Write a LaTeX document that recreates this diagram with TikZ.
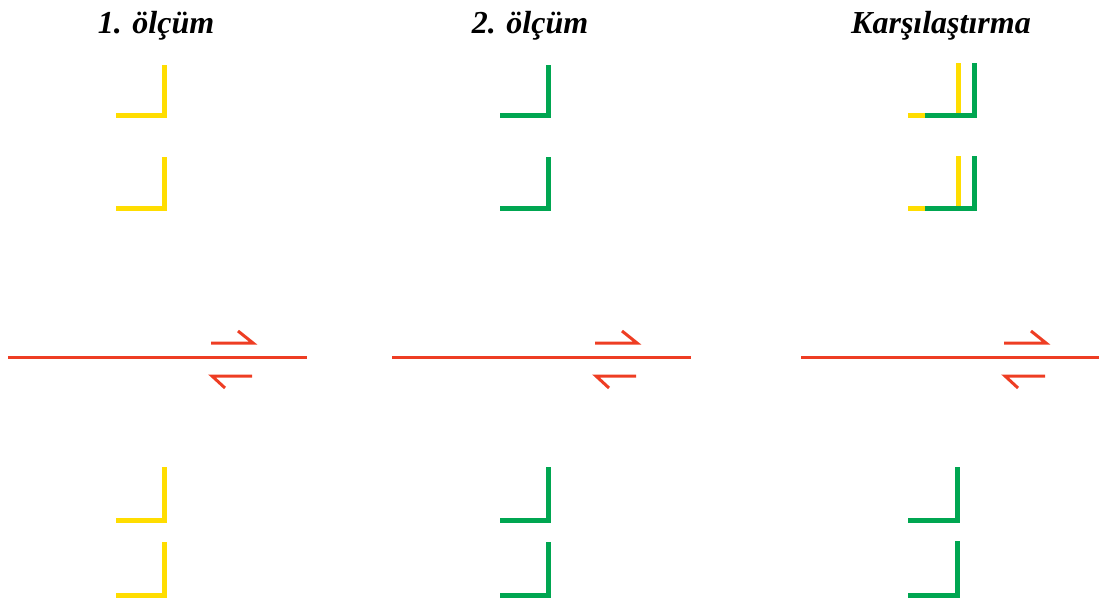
\documentclass[tikz,border=0pt]{standalone}
\usepackage{fontspec}
\setmainfont{Liberation Serif}
\definecolor{myyellow}{HTML}{FFDD00}
\definecolor{mygreen}{HTML}{00A651}
\definecolor{myred}{HTML}{EE3D23}
\begin{document}
\begin{tikzpicture}[x=1pt,y=-1pt,
  title/.style={anchor=base,font=\fontsize{32}{36}\selectfont\bfseries\itshape},
  ymark/.style={draw=myyellow,line width=5pt,miter limit=10},
  gmark/.style={draw=mygreen,line width=5pt,miter limit=10},
  fault/.style={draw=myred,line width=3pt}]
\useasboundingbox (0,0) rectangle (1099,600);
% titles
\node[title] (t1) at (156,33) {1. ölçüm};
\node[title] (t2) at (530,33) {2. ölçüm};
\node[title] (t3) at (941,33) {Karşılaştırma};
% markers columns 1 and 2
\foreach \t/\b in {65/115,157/208,467/520,542/595}{
  \draw[ymark] (164,\t) -- (164,\b) -- (116,\b);
  \draw[gmark] (548,\t) -- (548,\b) -- (500,\b);
}
% column 3 top: comparison
\foreach \t/\b in {63/115,156/208}{
  \draw[ymark] (958,\t) -- (958,\b) -- (908,\b);
  \draw[gmark] (974,\t) -- (974,\b) -- (925,\b);
}
\foreach \t/\b in {467/520,541/595}{
  \draw[gmark] (957,\t) -- (957,\b) -- (908,\b);
}
% faults
\foreach \o in {0,384,793}{
  \begin{scope}[xshift=\o]
  \draw[fault] (8,357) -- (307,357);
  \draw[fault] (211,343) -- (253,343) -- (238,331);
  \draw[fault] (252,376) -- (212,376) -- (225,388);
  \end{scope}
}
\end{tikzpicture}
\end{document}
